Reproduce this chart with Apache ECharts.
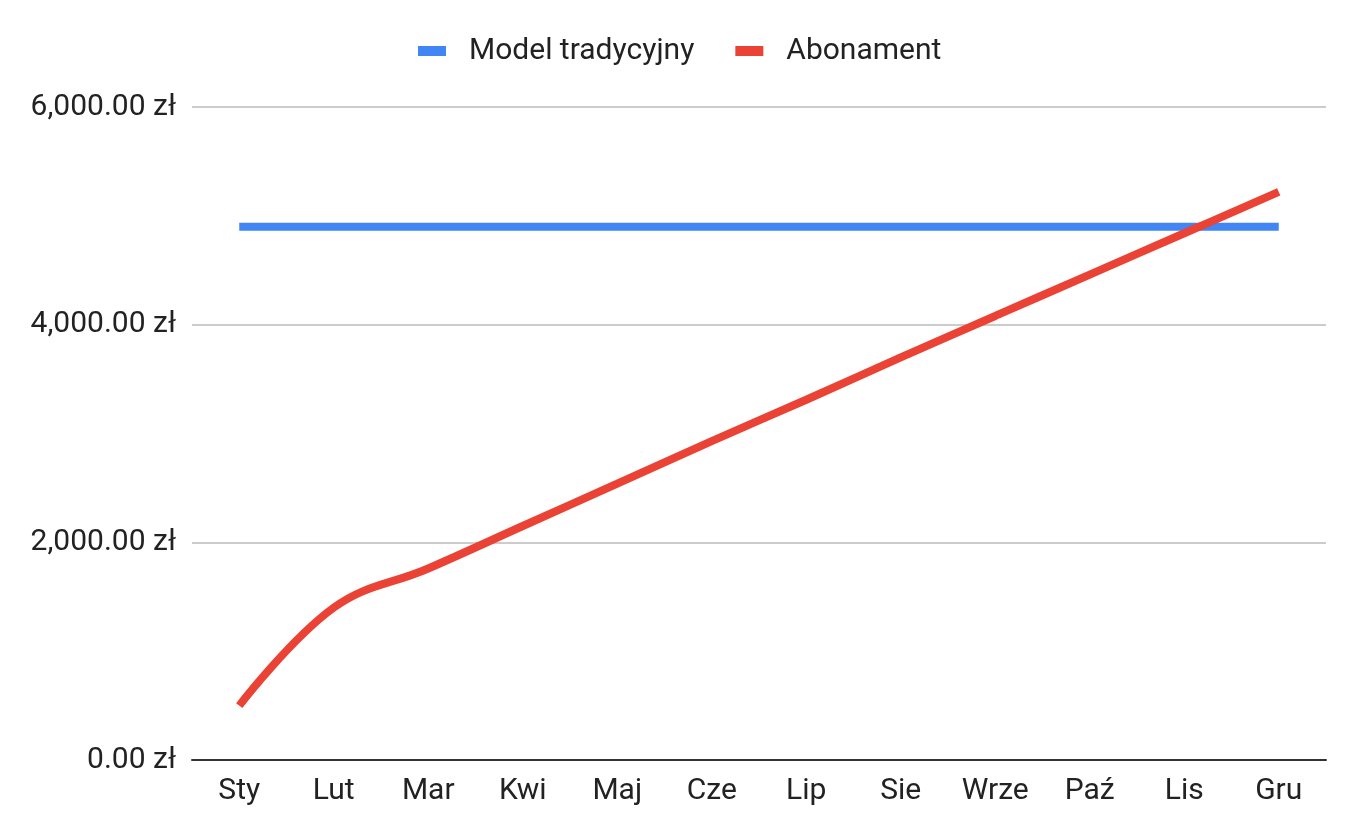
<!DOCTYPE html>
<html>
<head>
<meta charset="utf-8">
<script src="https://cdn.jsdelivr.net/npm/echarts@6/dist/echarts.min.js"></script>
<style>
  html, body { margin: 0; padding: 0; background: #fff; }
  #chart { width: 1346px; height: 834px; }
</style>
</head>
<body>
<div id="chart"></div>
<script>
const months = ['Sty', 'Lut', 'Mar', 'Kwi', 'Maj', 'Cze', 'Lip', 'Sie', 'Wrze', 'Paź', 'Lis', 'Gru']
const traditional = [4900, 4900, 4900, 4900, 4900, 4900, 4900, 4900, 4900, 4900, 4900, 4900]
const subscription = [500, 1400, 1760, 2150, 2540, 2930, 3310, 3700, 4080, 4460, 4840, 5220]
const yTicks = [0, 2000, 4000, 6000]

let chart = echarts.init(document.getElementById('chart'))
let font = 'Roboto, "Liberation Sans", Arial, sans-serif'

let option = {
  animation: false,
  textStyle: { fontFamily: font },
  legend: {
    top: 31,
    left: 413,
    icon: 'rect',
    itemWidth: 28,
    itemHeight: 10,
    itemGap: 41,
    textStyle: { fontSize: 30, color: '#222', fontFamily: font, padding: [0, 0, 0, 18] },
    data: ['Model tradycyjny', 'Abonament']
  },
  grid: {
    left: 192,
    right: 20,
    top: 107,
    bottom: 74
  },
  xAxis: {
    type: 'category',
    data: months,
    boundaryGap: true,
    axisTick: { show: false },
    axisLine: { lineStyle: { color: '#333', width: 2 } },
    axisLabel: { fontSize: 30, color: '#222', margin: 16, fontFamily: font }
  },
  yAxis: {
    type: 'value',
    min: yTicks[0],
    max: yTicks[yTicks.length - 1],
    interval: 2000,
    axisLine: { show: false },
    axisTick: { show: false },
    splitLine: { lineStyle: { color: '#ccc', width: 2 } },
    axisLabel: {
      fontSize: 30,
      color: '#222',
      margin: 16,
      fontFamily: font,
      formatter: function (v) {
        return v.toLocaleString('en-US', { minimumFractionDigits: 2, maximumFractionDigits: 2 }) + ' zł'
      }
    }
  },
  series: [
    {
      name: 'Model tradycyjny',
      type: 'line',
      data: traditional,
      showSymbol: false,
      itemStyle: { color: '#4285F4' },
      lineStyle: { color: '#4285F4', width: 8, cap: 'butt' }
    },
    {
      name: 'Abonament',
      type: 'line',
      data: subscription,
      smooth: 0.4,
      showSymbol: false,
      itemStyle: { color: '#EA4335' },
      lineStyle: { color: '#EA4335', width: 8, cap: 'butt' }
    }
  ]
}
chart.setOption(option)
</script>
</body>
</html>
